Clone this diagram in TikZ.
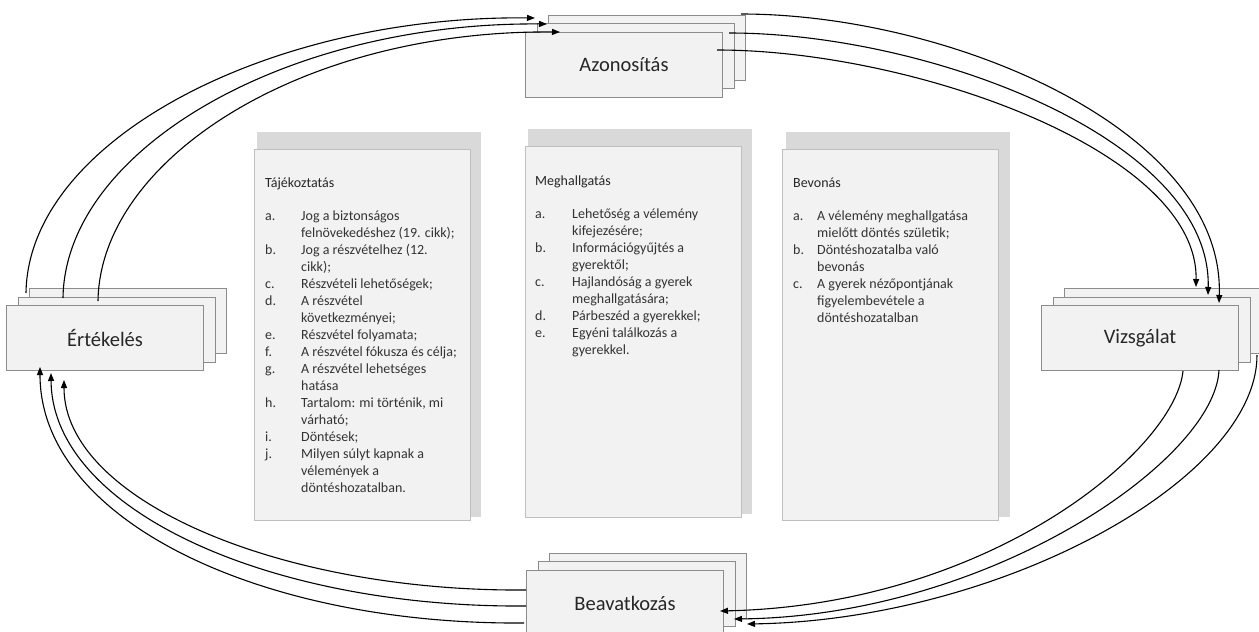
\documentclass[tikz,border=0pt]{standalone}
\usepackage{fontspec}
\setmainfont{Carlito}
\usetikzlibrary{arrows.meta}
\definecolor{boxfill}{HTML}{F2F2F2}
\definecolor{boxline}{HTML}{8C8C8C}
\definecolor{panelline}{HTML}{BFBFBF}
\definecolor{shade}{HTML}{D9D9D9}
\definecolor{ink}{HTML}{262626}
\definecolor{itemink}{HTML}{333333}

\begin{document}
\begin{tikzpicture}[x=1pt,y=-1pt,
  stackbox/.style={draw=boxline,fill=boxfill,line width=0.9pt,minimum width=197pt,
    minimum height=65pt,inner sep=0pt,font=\fontsize{20.5}{24}\selectfont,text=ink},
  panel/.style={draw=panelline,fill=boxfill,line width=0.8pt,inner sep=0pt,
    minimum width=216pt,minimum height=371pt},
  shadowbox/.style={fill=shade,inner sep=0pt,minimum width=224pt,minimum height=385pt},
  heading/.style={anchor=base west,inner sep=0pt,font=\fontsize{14}{17}\selectfont,text=ink},
  itemlist/.style={anchor=base west,inner sep=0pt,font=\fontsize{14}{17}\selectfont,text=itemink},
  flow/.style={line width=1.1pt,-{Triangle[length=8pt,width=6pt]}}]

\useasboundingbox (0,0) rectangle (1259,632);
\clip (0,0) rectangle (1259,632);

% ---- three text panels with their grey backing sheets ----
\node[shadowbox] (tajsh) at (369,324.5) {};
\node[panel] (taj) at (362,334.5) {};
\node[shadowbox] (megsh) at (640,321.5) {};
\node[panel] (meg) at (633,331.5) {};
\node[shadowbox] (bevsh) at (898,324.5) {};
\node[panel] (bev) at (890,334.5) {};

\node[heading] (tajtitle) at (265,187) {Tájékoztatás};
\node[itemlist] (tajitems) at (265,220) {\begin{tabular}[t]{@{}p{36pt}@{}l@{}}
a.&Jog a biztonságos\\
  &felnövekedéshez (19. cikk);\\
b.&Jog a részvételhez (12.\\
  &cikk);\\
c.&Részvételi lehetőségek;\\
d.&A részvétel\\
  &következményei;\\
e.&Részvétel folyamata;\\
f.&A részvétel fókusza és célja;\\
g.&A részvétel lehetséges\\
  &hatása\\
h.&Tartalom: mi történik, mi\\
  &várható;\\
i.&Döntések;\\
j.&Milyen súlyt kapnak a\\
  &vélemények a\\
  &döntéshozatalban.
\end{tabular}};

\node[heading] (megtitle) at (535,185) {Meghallgatás};
\node[itemlist] (megitems) at (535,218) {\begin{tabular}[t]{@{}p{37pt}@{}l@{}}
a.&Lehetőség a vélemény\\
  &kifejezésére;\\
b.&Információgyűjtés a\\
  &gyerektől;\\
c.&Hajlandóság a gyerek\\
  &meghallgatására;\\
d.&Párbeszéd a gyerekkel;\\
e.&Egyéni találkozás a\\
  &gyerekkel.
\end{tabular}};

\node[heading] (bevtitle) at (793,187) {Bevonás};
\node[itemlist] (bevitems) at (793,220) {\begin{tabular}[t]{@{}p{24pt}@{}l@{}}
a.&A vélemény meghallgatása\\
  &mielőtt döntés születik;\\
b.&Döntéshozatalba való\\
  &bevonás\\
c.&A gyerek nézőpontjának\\
  &figyelembevétele a\\
  &döntéshozatalban
\end{tabular}};

% ---- the four stacked stage boxes ----
\node[stackbox] (azo3) at (647,47.5) {};
\node[stackbox] (azo2) at (636,56) {};
\node[stackbox] (azo)  at (624,65) {Azonosítás};

\node[stackbox] (ert3) at (128,321) {};
\node[stackbox] (ert2) at (117,329.5) {};
\node[stackbox] (ert)  at (105,338) {Értékelés};

\node[stackbox] (viz3) at (1163,321) {};
\node[stackbox] (viz2) at (1152,329.5) {};
\node[stackbox] (viz)  at (1140,338) {Vizsgálat};

\node[stackbox] (bea3) at (648,585.5) {};
\node[stackbox] (bea2) at (637,594) {};
\node[stackbox] (bea)  at (625,603) {Beavatkozás};

% ---- connector end points on the stacks ----
\coordinate (ertA) at (26,293);
\coordinate (ertB) at (63,298);
\coordinate (ertC) at (98,301);
\coordinate (azoA) at (535,18);
\coordinate (azoB) at (547,24);
\coordinate (azoC) at (560,32);

\coordinate (azoD) at (741,14);
\coordinate (azoE) at (729,33);
\coordinate (azoF) at (717,50);
\coordinate (vizA) at (1219,303);
\coordinate (vizB) at (1208,295);
\coordinate (vizC) at (1196,287);

\coordinate (vizD) at (1257,355);
\coordinate (vizE) at (1219,370);
\coordinate (vizF) at (1183,371);
\coordinate (beaA) at (747,624);
\coordinate (beaB) at (734,619);
\coordinate (beaC) at (720,611);

\coordinate (beaD) at (524,623);
\coordinate (beaE) at (526,606);
\coordinate (beaF) at (526,590);
\coordinate (ertD) at (40,367);
\coordinate (ertE) at (51,373);
\coordinate (ertF) at (64,380);

% Értékelés -> Azonosítás
\draw[flow] (ertA) .. controls (28,140) and (270,15) .. (azoA);
\draw[flow] (ertB) .. controls (65,150) and (285,22) .. (azoB);
\draw[flow] (ertC) .. controls (100,160) and (300,30) .. (azoC);

% Azonosítás -> Vizsgálat
\draw[flow] (azoD) .. controls (950,14) and (1225,130) .. (vizA);
\draw[flow] (azoE) .. controls (930,33) and (1212,140) .. (vizB);
\draw[flow] (azoF) .. controls (910,50) and (1198,150) .. (vizC);

% Vizsgálat -> Beavatkozás
\draw[flow] (vizD) .. controls (1257,480) and (1000,620) .. (beaA);
\draw[flow] (vizE) .. controls (1215,460) and (990,616) .. (beaB);
\draw[flow] (vizF) .. controls (1175,450) and (990,605) .. (beaC);

% Beavatkozás -> Értékelés
\draw[flow] (beaD) .. controls (260,625) and (40,520) .. (ertD);
\draw[flow] (beaE) .. controls (270,608) and (52,510) .. (ertE);
\draw[flow] (beaF) .. controls (280,592) and (64,500) .. (ertF);

\end{tikzpicture}
\end{document}
